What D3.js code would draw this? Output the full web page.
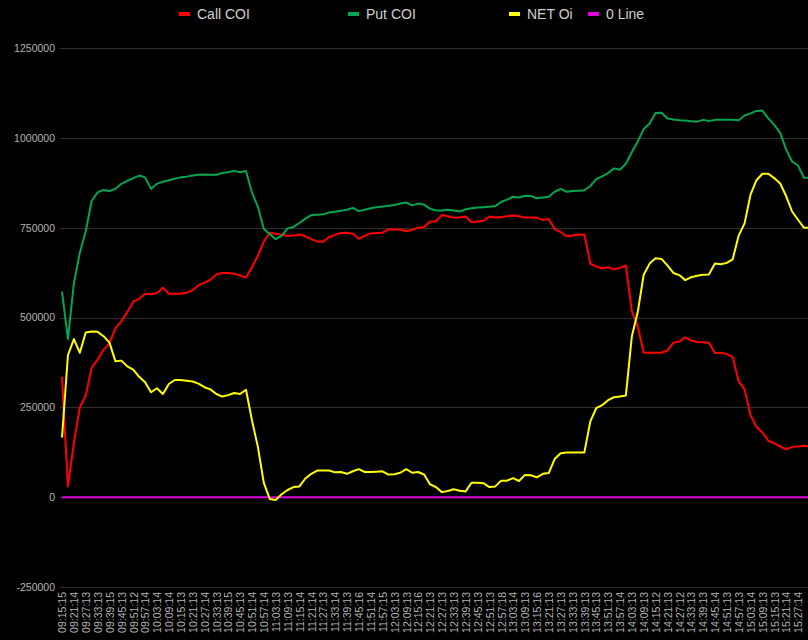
<!DOCTYPE html>
<html>
<head>
<meta charset="utf-8">
<script src="https://cdn.jsdelivr.net/npm/d3@7"></script>
<style>
  html, body { margin: 0; padding: 0; background: #000; }
  svg { display: block; }
</style>
</head>
<body>
<svg id="chart" width="808" height="640"></svg>
<script>
// ---- data ----
const tickLabels = [
  "09:15:15","09:21:14","09:27:13","09:33:13","09:39:15","09:45:13","09:51:12","09:57:14",
  "10:03:14","10:09:14","10:15:13","10:21:13","10:27:14","10:33:13","10:39:15","10:45:13",
  "10:51:14","10:57:14","11:03:13","11:09:13","11:15:14","11:21:14","11:27:13","11:33:14",
  "11:39:13","11:45:16","11:51:14","11:57:15","12:03:13","12:09:13","12:15:16","12:21:13",
  "12:27:13","12:33:13","12:39:13","12:45:13","12:51:13","12:57:18","13:03:14","13:09:13",
  "13:15:16","13:21:13","13:27:13","13:33:13","13:39:13","13:45:13","13:51:13","13:57:14",
  "14:03:13","14:09:13","14:15:12","14:21:13","14:27:12","14:33:13","14:39:13","14:45:14",
  "14:51:13","14:57:13","15:03:14","15:09:13","15:15:13","15:21:14","15:27:14"
];
// one reading every ~3 minutes (two readings per labelled tick), values in thousands
const callCOI = [
  335,30,150,250,283,360,383,410,428,470,490,515,544,552,566,565,568,583,566,566,
  566,569,576,590,597,605,620,624,624,622,617,611,640,672,711,736,733,730,727,728,
  731,726,718,711,711,724,730,735,736,733,719,727,734,735,736,745,745,745,740,744,
  750,752,767,768,785,782,778,778,781,765,767,769,781,778,780,782,784,782,778,778,
  778,771,774,746,738,726,728,730,731,650,642,637,640,634,638,645,518,475,402,402,
  402,402,408,430,433,445,436,432,431,430,401,402,398,390,322,300,228,196,180,157,
  150,141,133,140,141,143,141
];
const putCOI = [
  572,440,595,680,740,825,848,855,852,858,872,880,888,895,890,858,872,878,882,886,
  890,892,895,897,898,897,897,902,904,908,904,908,848,808,747,732,718,727,748,752,
  763,775,785,786,787,792,794,797,800,805,796,800,804,807,809,811,813,817,820,812,
  817,814,803,798,798,800,798,795,801,804,806,807,808,810,822,828,836,834,839,838,
  832,834,836,850,858,850,852,853,854,866,885,893,902,915,911,928,960,990,1024,1040,
  1069,1070,1054,1051,1049,1048,1046,1045,1050,1047,1050,1050,1050,1050,1049,1062,1068,1075,1076,1054,
  1036,1014,968,934,923,889,889
];
const netOi = [
  166,395,440,402,458,461,460,448,430,378,380,364,355,335,320,292,303,287,315,326,
  326,324,322,316,306,300,287,280,284,290,287,299,214,140,40,-5,-8,8,20,28,
  30,52,65,74,74,74,69,70,65,72,78,70,70,71,72,63,64,68,78,68,
  70,63,36,28,14,17,22,18,16,40,40,39,28,30,46,46,53,45,62,61,
  55,65,67,106,122,124,124,124,124,210,248,256,270,278,280,283,447,515,619,650,
  665,663,645,624,618,604,612,616,619,620,650,648,652,662,728,762,842,882,900,900,
  888,873,838,795,772,750,750
];
const zeroLine = callCOI.map(() => 0);
const yTicks = [-250000, 0, 250000, 500000, 750000, 1000000, 1250000];
const seriesNames = ["Call COI", "Put COI", "NET Oi", "0 Line"];
const seriesColors = ["#ff0000", "#00a651", "#ffff00", "#e000e0"];

// ---- chart ----
(function () {
const svg = d3.select("#chart");
const W = 808, H = 640;
const padL = 60, padT = 48, padB = 587;

svg.append("rect").attr("width", W).attr("height", H).attr("fill", "#000");

const x = d3.scaleLinear().domain([0, 124]).range([62, 798]);
const y = d3.scaleLinear().domain([-250000, 1250000]).range([padB, padT]);

// gridlines
svg.append("g").selectAll("line").data(yTicks).join("line")
  .attr("x1", padL).attr("x2", W)
  .attr("y1", d => Math.round(y(d)) + 0.5).attr("y2", d => Math.round(y(d)) + 0.5)
  .attr("stroke", "#2e2e2e").attr("stroke-width", 1);

// y axis labels
const yAxis = svg.append("g").attr("transform", `translate(${padL},0)`)
  .call(d3.axisLeft(y).tickValues(yTicks).tickFormat(d => String(d)).tickSize(0).tickPadding(5));
yAxis.select(".domain").remove();
yAxis.selectAll("text")
  .attr("fill", "#b4b4b4")
  .style("font-family", "'Liberation Sans', Arial, sans-serif")
  .style("font-size", "10.5px");

// x axis labels
const xAxis = svg.append("g").attr("transform", `translate(0,${padB})`)
  .call(d3.axisBottom(x)
    .tickValues(d3.range(0, tickLabels.length * 2, 2))
    .tickFormat(i => tickLabels[i / 2])
    .tickSize(0));
xAxis.select(".domain").remove();
xAxis.selectAll("text")
  .attr("fill", "#b4b4b4")
  .style("font-family", "'Liberation Sans', Arial, sans-serif")
  .style("font-size", "10.5px")
  .attr("text-anchor", "end")
  .attr("transform", "rotate(-90)")
  .attr("x", -5).attr("y", 0).attr("dy", "0.36em");

// lines
svg.append("clipPath").attr("id", "plotclip")
  .append("rect").attr("x", padL).attr("y", 0).attr("width", W - padL).attr("height", H);
const line = d3.line().x((d, i) => x(i)).y(d => y(d * 1000));
const g = svg.append("g").attr("clip-path", "url(#plotclip)");
g.append("path").datum(zeroLine).attr("d", line)
  .attr("fill", "none").attr("stroke", seriesColors[3]).attr("stroke-width", 2);
[callCOI, putCOI, netOi].forEach((s, k) => {
  g.append("path").datum(s).attr("d", line)
    .attr("fill", "none").attr("stroke", seriesColors[k])
    .attr("stroke-width", 2).attr("stroke-linejoin", "round");
});

// legend
const legendX = [179, 348, 509, 588];
const lg = svg.append("g");
seriesNames.forEach((name, k) => {
  lg.append("rect").attr("x", legendX[k]).attr("y", 12).attr("width", 11).attr("height", 4)
    .attr("fill", seriesColors[k]);
  lg.append("text").attr("x", legendX[k] + 18).attr("y", 19)
    .attr("fill", "#d0d0d0")
    .style("font-family", "'Liberation Sans', Arial, sans-serif")
    .style("font-size", "14px")
    .text(name);
});
})();
</script>
</body>
</html>
